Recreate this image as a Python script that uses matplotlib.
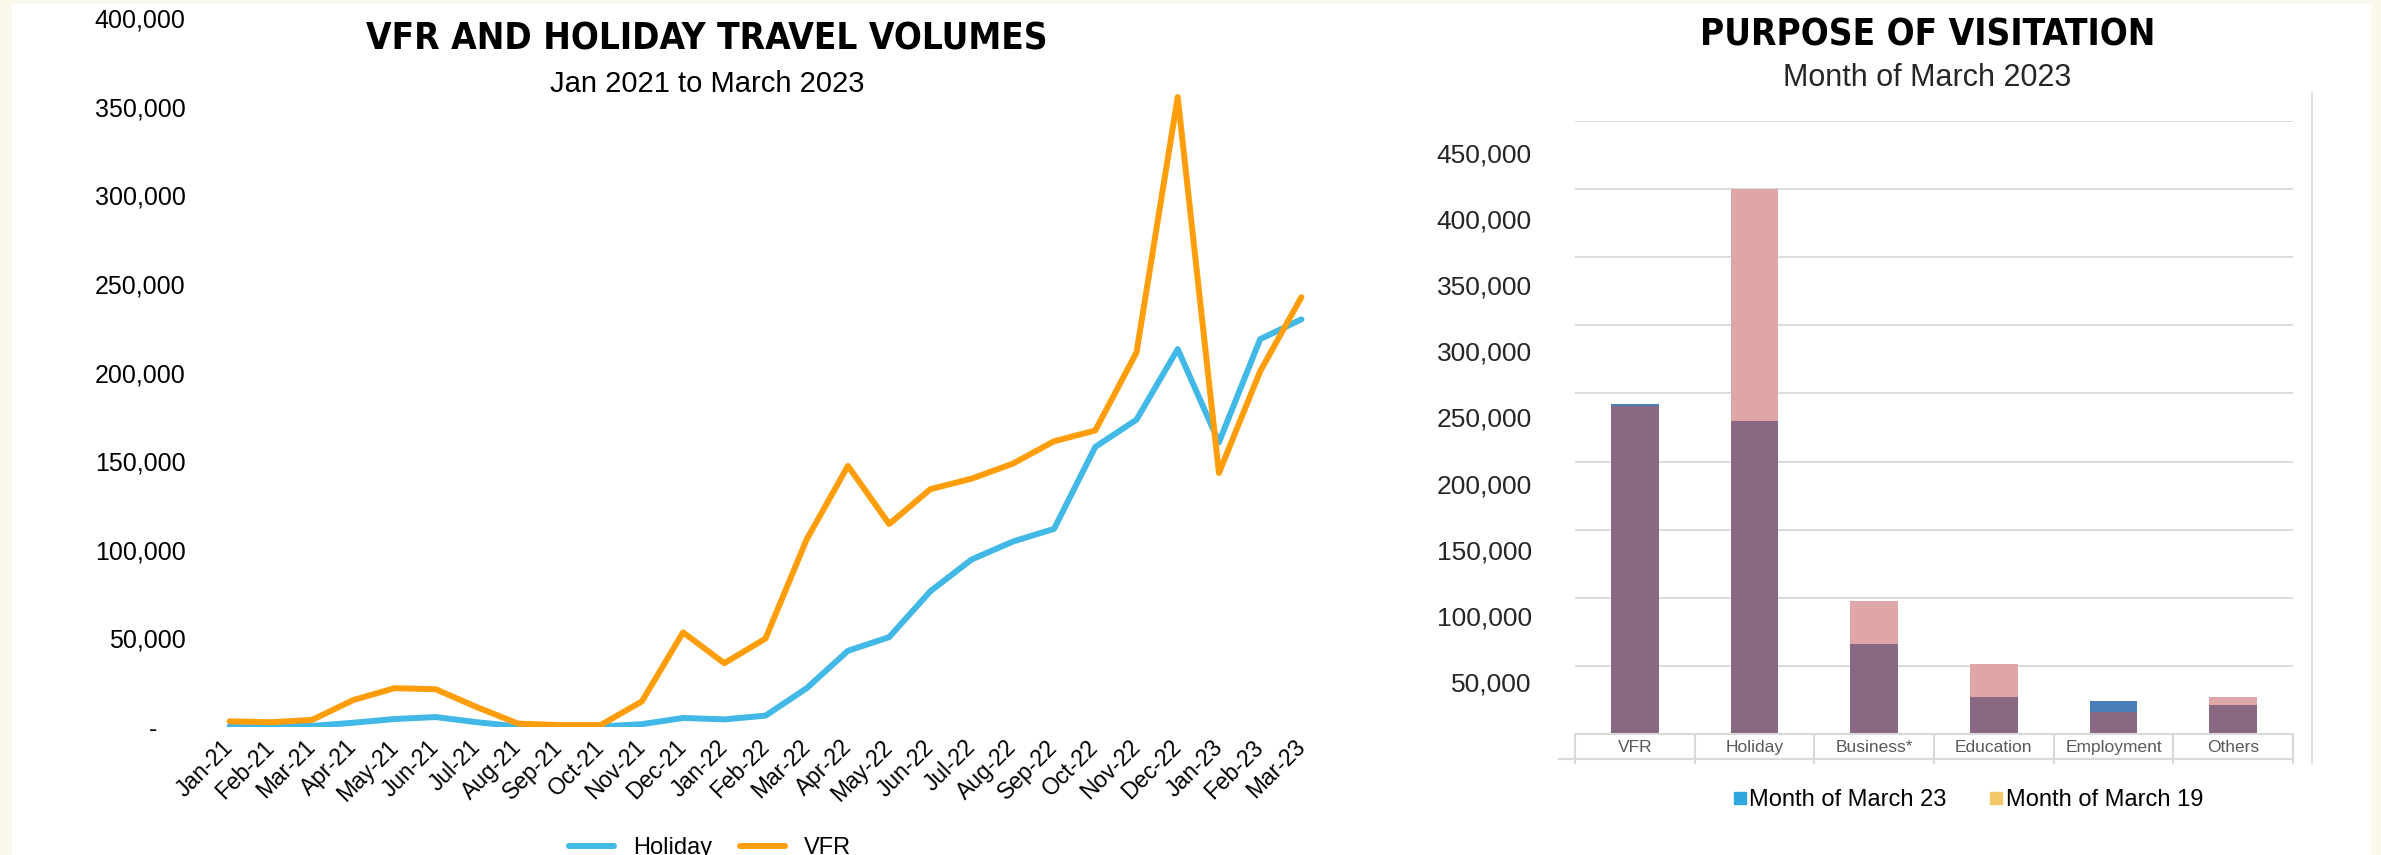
import numpy as np
import matplotlib
matplotlib.use("Agg")
import matplotlib.pyplot as plt
from matplotlib import font_manager
from matplotlib.ticker import FuncFormatter
from matplotlib.lines import Line2D
from matplotlib.patches import Rectangle

plt.rcParams["font.family"] = ["Liberation Sans", "DejaVu Sans"]


def heading_font():
    # heavy condensed face if one is installed, plain bold otherwise
    for fam in ["Liberation Sans Narrow", "DejaVu Sans"]:
        prop = font_manager.FontProperties(family=fam, weight="bold",
                                           stretch="condensed")
        try:
            path = font_manager.findfont(prop, fallback_to_default=False)
        except ValueError:
            continue
        if "Narrow" in path or "Condensed" in path:
            return dict(fontproperties=prop, fontsize=26.5)
    prop = font_manager.FontProperties(family="Liberation Sans", weight="bold")
    return dict(fontproperties=prop, fontsize=25)


# monthly arrivals by purpose
months = ["Jan-21", "Feb-21", "Mar-21", "Apr-21", "May-21", "Jun-21", "Jul-21",
          "Aug-21", "Sep-21", "Oct-21", "Nov-21", "Dec-21", "Jan-22", "Feb-22",
          "Mar-22", "Apr-22", "May-22", "Jun-22", "Jul-22", "Aug-22", "Sep-22",
          "Oct-22", "Nov-22", "Dec-22", "Jan-23", "Feb-23", "Mar-23"]
holiday = [500, 400, 600, 2400, 4500, 5600, 2700, 300, 200, 300, 1600, 5100,
           4300, 6400, 21900, 43000, 50700, 76600, 94500, 104600, 111800,
           158000, 173400, 213200, 160600, 218800, 230000]
vfr = [3200, 2700, 4000, 15200, 21900, 21300, 11200, 1900, 1100, 1100, 14400,
       53400, 36000, 49900, 105900, 147300, 114500, 134200, 140100, 148600,
       161200, 167300, 211300, 355400, 143300, 200700, 242500]

# purpose of visit, March 2023 vs March 2019
purposes = ["VFR", "Holiday", "Business*", "Education", "Employment", "Others"]
march_23 = [242500, 230000, 66000, 27500, 24000, 21500]
march_19 = [240500, 400000, 98000, 51500, 16000, 27000]

W, H = 2381, 855
fig = plt.figure(figsize=(W / 100, H / 100), dpi=100, facecolor="#FBF8EE")
fig.patches.append(Rectangle((12 / W, 0), (2371 - 12) / W, (H - 4) / H,
                             transform=fig.transFigure, facecolor="white",
                             edgecolor="none", zorder=-10))
HEAD = heading_font()


def box(left, top, right, bottom):
    return [left / W, 1 - bottom / H, (right - left) / W, (bottom - top) / H]


def thousands(v, pos=None):
    return "-    " if v == 0 else f"{v:,.0f}"


# ---- line chart ----
ax1 = fig.add_axes(box(209, 18, 1322, 727))
ax1.set_facecolor("none")
x = np.arange(len(months))
ax1.plot(x, holiday, color="#41B8E6", lw=4.3, label="Holiday",
         solid_capstyle="round", solid_joinstyle="round")
ax1.plot(x, vfr, color="#FF9E0A", lw=4.3, label="VFR",
         solid_capstyle="round", solid_joinstyle="round")
ax1.set_xlim(-0.5, len(months) - 0.5)
ax1.set_ylim(0, 400000)
ax1.set_yticks(np.arange(0, 400001, 50000))
ax1.yaxis.set_major_formatter(FuncFormatter(thousands))
ax1.tick_params(axis="y", length=0, pad=17, labelsize=18)
ax1.set_xticks(x, months, rotation=45, ha="right", va="center",
               rotation_mode="anchor", fontsize=16.5)
ax1.tick_params(axis="x", length=0, pad=12)
for s in ax1.spines.values():
    s.set_visible(False)

fig.text(707 / W, 1 - 39 / H, "VFR AND HOLIDAY TRAVEL VOLUMES", ha="center",
         va="center", **HEAD)
fig.text(707 / W, 1 - 84 / H, "Jan 2021 to March 2023", ha="center",
         va="center", fontsize=21)
fig.legend(*ax1.get_legend_handles_labels(), loc="center",
           bbox_to_anchor=(710 / W, 1 - 848 / H), ncol=2, frameon=False,
           fontsize=17, handlelength=1.9, columnspacing=1.2)

# ---- bar chart ----
ax2 = fig.add_axes(box(1575, 121, 2293, 734))
ax2.set_facecolor("none")
xp = np.arange(len(purposes))
m23 = np.array(march_23)
m19 = np.array(march_19)
low = np.minimum(m23, m19)
ax2.bar(xp, low, width=0.4, color="#886883", zorder=2)
ax2.bar(xp, np.where(m19 > m23, m19 - low, 0), width=0.4, bottom=low,
        color="#DEA6A6", zorder=2)
ax2.bar(xp, np.where(m23 > m19, m23 - low, 0), width=0.4, bottom=low,
        color="#4A7EBB", zorder=2)
ax2.set_xlim(-0.5, len(purposes) - 0.5)
ax2.set_ylim(0, 450000)
ax2.set_yticks(np.arange(50000, 450001, 50000))
ax2.yaxis.grid(True, color="#D9D9D9", lw=1.3)
ax2.set_axisbelow(True)
ax2.tick_params(axis="y", length=0, labelleft=False)
ax2.set_xticks(xp, purposes, fontsize=12.5, color="#595959")
ax2.tick_params(axis="x", length=0, pad=4)
for s in ax2.spines.values():
    s.set_visible(False)

# category table under the bars
table_h = 25 / 613
grey = dict(transform=ax2.transAxes, color="#D9D9D9", lw=1.5, clip_on=False)
ax2.plot([0, 1], [0, 0], **grey)
ax2.plot([-16 / 718, 1], [-table_h, -table_h], **grey)
for i in range(len(purposes) + 1):
    ax2.plot([i / len(purposes)] * 2, [0, -29 / 613], **grey)

# value labels of the bar chart
axl = ax2.twinx()
axl.set_ylim(10660, 474200)
axl.set_yticks(np.arange(50000, 450001, 50000))
axl.yaxis.set_major_formatter(FuncFormatter(thousands))
axl.yaxis.tick_left()
axl.tick_params(axis="y", length=0, pad=31, labelsize=19, labelcolor="#262626")
for s in axl.spines.values():
    s.set_visible(False)

fig.add_artist(Line2D([2312 / W] * 2, [1 - 93 / H, 1 - 763 / H],
                      color="#D9D9D9", lw=1.2))

fig.text(1928 / W, 1 - 35 / H, "PURPOSE OF VISITATION", ha="center",
         va="center", **HEAD)
fig.text(1927 / W, 1 - 78 / H, "Month of March 2023", ha="center",
         va="center", fontsize=22, color="#262626")

handles = [Line2D([], [], ls="none", marker="s", markersize=9, color="#2EA8DF"),
           Line2D([], [], ls="none", marker="s", markersize=9, color="#F3C96B")]
fig.legend(handles, ["Month of March 23", "Month of March 19"], loc="center",
           bbox_to_anchor=(1968 / W, 1 - 800 / H), ncol=2, frameon=False,
           fontsize=17, handlelength=0.6, handletextpad=0.1, columnspacing=1.8)

fig.savefig("out.png", dpi=100)
